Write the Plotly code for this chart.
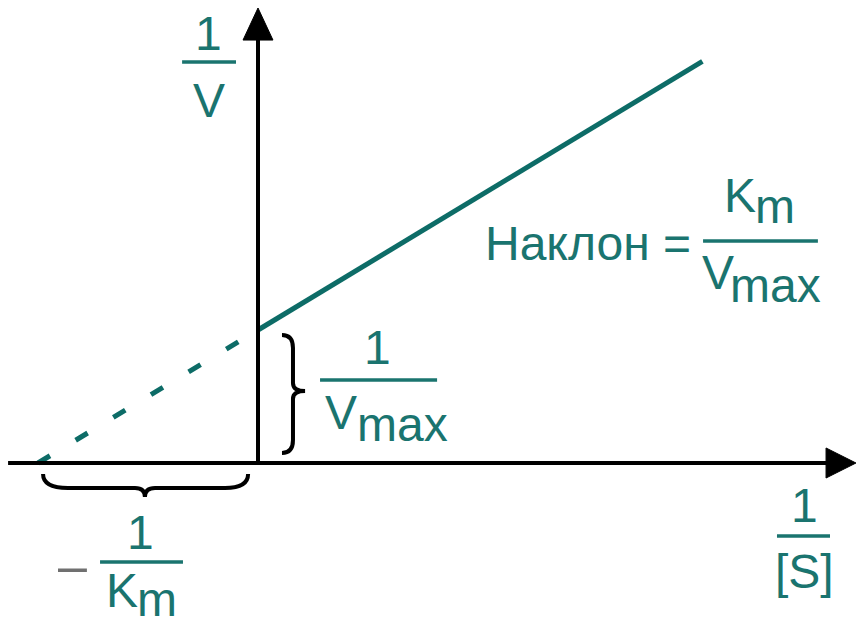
import plotly.graph_objects as go

# Lineweaver–Burk plot: 1/V = (Km/Vmax)·(1/[S]) + 1/Vmax
Km = 1.0          # Michaelis constant (arbitrary units)
Vmax = 1.0        # maximal rate (arbitrary units)
inv_s_max = 2.02  # last plotted value of 1/[S]

# measured part of the line (1/[S] >= 0) and its extrapolation to the x-intercept
inv_s_solid = [0.0, inv_s_max]
inv_v_solid = [1 / Vmax + (Km / Vmax) * s for s in inv_s_solid]
inv_s_dashed = [-1 / Km, 0.0]
inv_v_dashed = [1 / Vmax + (Km / Vmax) * s for s in inv_s_dashed]

TEAL = "#0d6c67"
TEXT_TEAL = "#1a746f"
FONT = "Liberation Sans, Arial, sans-serif"

X_RANGE = [-1.17273, 2.72727]
Y_RANGE = [-1.23308, 3.48120]

fig = go.Figure()

fig.add_trace(go.Scatter(
    x=inv_s_dashed, y=inv_v_dashed, mode="lines",
    line=dict(color=TEAL, width=5, dash="14px,30px"),
    hoverinfo="skip"))
fig.add_trace(go.Scatter(
    x=inv_s_solid, y=inv_v_solid, mode="lines",
    line=dict(color=TEAL, width=5),
    hoverinfo="skip"))

shapes = []

# axes with arrowheads
shapes.append(dict(type="line", xref="x", yref="y", x0=-1.136, y0=0, x1=2.60, y1=0,
                   line=dict(color="black", width=4)))
shapes.append(dict(type="path", xref="x", yref="y",
                   path="M 2.582,0.113 L 2.718,0 L 2.582,-0.113 Z",
                   fillcolor="black", line=dict(color="black", width=1)))
shapes.append(dict(type="line", xref="x", yref="y", x0=0, y0=0, x1=0, y1=3.20,
                   line=dict(color="black", width=4)))
shapes.append(dict(type="path", xref="x", yref="y",
                   path="M -0.068,3.180 L 0,3.421 L 0.068,3.180 Z",
                   fillcolor="black", line=dict(color="black", width=1)))

# brace marking the y-intercept 1/Vmax
shapes.append(dict(type="path", xref="x", yref="y",
                   path=("M 0.109,0.962 Q 0.159,0.962 0.159,0.865 L 0.159,0.602 "
                         "Q 0.159,0.541 0.214,0.541 Q 0.159,0.541 0.159,0.481 "
                         "L 0.159,0.173 Q 0.159,0.075 0.109,0.075"),
                   line=dict(color="black", width=4)))
# brace marking the x-intercept -1/Km
shapes.append(dict(type="path", xref="x", yref="y",
                   path=("M -0.977,-0.083 Q -0.977,-0.188 -0.864,-0.188 L -0.559,-0.188 "
                         "Q -0.514,-0.188 -0.514,-0.256 Q -0.514,-0.188 -0.468,-0.188 "
                         "L -0.150,-0.188 Q -0.045,-0.188 -0.045,-0.083"),
                   line=dict(color="black", width=4)))

# fraction bars
for x0, x1, y in [(-0.345, -0.100, 3.015),   # 1/V
                  (0.282, 0.814, 0.624),     # 1/Vmax
                  (2.023, 2.545, 1.669),     # Km/Vmax
                  (-0.718, -0.341, -0.744),  # -1/Km
                  (2.359, 2.600, -0.549)]:   # 1/[S]
    shapes.append(dict(type="line", xref="x", yref="y", x0=x0, x1=x1, y0=y, y1=y,
                       line=dict(color=TEXT_TEAL, width=3.5)))

labels = [
    ("1", -0.227, 3.233), ("V", -0.223, 2.729),
    ("1", 0.541, 0.865), ("V", 0.377, 0.376), ("max", 0.655, 0.286),
    ("Наклон =", 1.500, 1.654),
    ("K", 2.191, 2.008), ("m", 2.350, 1.932),
    ("V", 2.091, 1.429), ("max", 2.350, 1.338),
    ("1", -0.536, -0.519),
    ("K", -0.618, -0.955), ("m", -0.459, -1.030),
    ("1", 2.486, -0.316), ("[S]", 2.482, -0.812),
]
annotations = [dict(text=t, x=x, y=y, xref="x", yref="y", showarrow=False,
                    xanchor="center", yanchor="middle",
                    font=dict(family=FONT, size=48, color=TEXT_TEAL))
               for t, x, y in labels]
# leading minus sign of -1/Km
annotations.append(dict(text="–", x=-0.845, y=-0.768, xref="x", yref="y",
                        showarrow=False, xanchor="center", yanchor="middle",
                        font=dict(family=FONT, size=52, color="#707070")))

fig.update_layout(
    width=858, height=627,
    margin=dict(l=0, r=0, t=0, b=0),
    paper_bgcolor="white", plot_bgcolor="white",
    showlegend=False,
    xaxis=dict(range=X_RANGE, visible=False, fixedrange=True),
    yaxis=dict(range=Y_RANGE, visible=False, fixedrange=True),
    shapes=shapes, annotations=annotations,
)

fig.write_html("out.html", config={"displayModeBar": False})
